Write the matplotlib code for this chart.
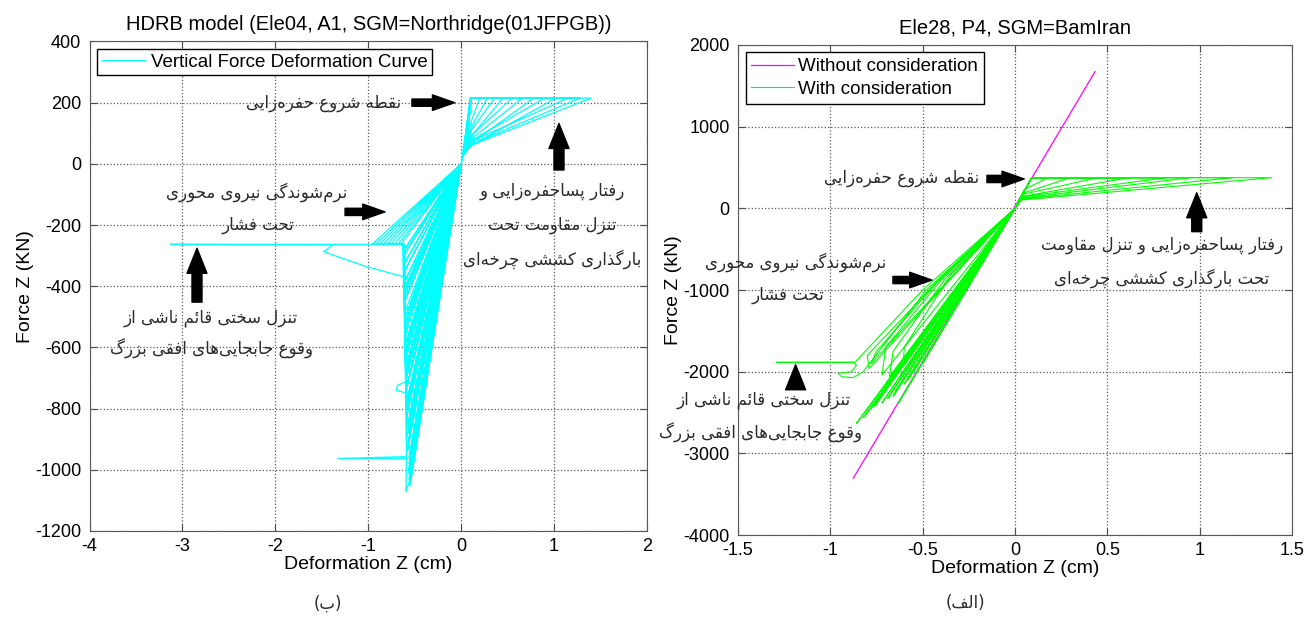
import matplotlib.pyplot as plt

plt.rcParams['font.family'] = ['Liberation Sans', 'DejaVu Sans']
plt.rcParams['axes.unicode_minus'] = False

# ---------------- data ----------------
# left plot: HDRB model, tension fan (path through the hysteresis loops)
left_ten_x = [0, 0.10, 1.40, 0.10, 0.03, 0.10, 1.28, 0.12, 0.04, 0.11, 1.15, 0.10, 0.02,
              0.10, 1.02, 0.13, 0.05, 0.11, 0.90, 0.12, 0.03, 0.10, 0.78, 0.14, 0.04,
              0.11, 0.66, 0.12, 0.03, 0.10, 0.55, 0.10, 0.04, 0.11, 0.45, 0.13, 0.03,
              0.10, 0.36, 0.11, 0.04, 0.10, 0.28, 0.12, 0.02, 0.10, 0.20, 0.11, 0]
left_ten_y = [0, 215, 215, 60, 30, 215, 215, 66, 38, 215, 215, 72, 25,
              215, 215, 64, 40, 215, 215, 78, 30, 215, 215, 74, 35,
              215, 215, 84, 30, 215, 215, 90, 40, 215, 215, 98, 35,
              215, 215, 110, 45, 215, 215, 125, 30, 215, 215, 140, 0]

# left plot: compression fan
left_com_x = [0, -0.96, -0.62, -0.61, 0, -0.92, -0.62, -0.60, 0, -0.88, -0.63, -0.60, 0,
              -0.84, -0.62, -0.59, 0, -0.80, -0.62, -0.59, 0, -0.76, -0.61, -0.60, 0,
              -0.72, -0.62, -0.60, 0, -0.68, -0.61, -0.59, 0, -0.65, -0.62, -0.58, 0,
              -0.62, 0, -0.61, 0, -0.60, 0, -0.61, 0, -0.60, 0, -0.59, 0, -0.60, 0,
              -0.59, 0, -0.58, 0, -0.59, 0, -0.57, 0, -0.58, 0, -0.56, 0, -0.57, 0,
              -0.61, 0, -0.60, 0, -0.60, 0, -0.59, 0, -0.59, 0, -0.58, 0, -0.58, 0,
              -0.57, 0, -0.57, 0, -0.56, 0, -0.55, 0, -0.56, 0, -0.55, 0,
              -0.62, 0, -0.61, 0, -0.60, 0, -0.60, 0, -0.59, 0, -0.58, 0]
left_com_y = [0, -263, -263, -420, 0, -263, -263, -560, 0, -263, -263, -680, 0,
              -263, -263, -800, 0, -263, -263, -900, 0, -263, -263, -480, 0,
              -263, -263, -620, 0, -263, -263, -740, 0, -263, -263, -860, 0,
              -300, 0, -350, 0, -400, 0, -450, 0, -520, 0, -580, 0, -640, 0,
              -700, 0, -770, 0, -830, 0, -880, 0, -930, 0, -980, 0, -1010, 0,
              -280, 0, -380, 0, -500, 0, -600, 0, -660, 0, -720, 0, -790, 0,
              -850, 0, -910, 0, -960, 0, -1000, 0, -1030, 0, -1050, 0,
              -330, 0, -430, 0, -540, 0, -690, 0, -815, 0, -940, 0]

# left plot: large-deformation branches
left_tail_x = [-0.64, -3.13, -1.38, -1.48, -1.38, -1.02, -0.62, -0.59, -0.68, -0.70,
               -0.59, -0.59, -1.33, -0.59, -0.594, -0.55, 0]
left_tail_y = [-263, -263, -265, -287, -298, -336, -369, -712, -723, -739,
               -750, -957, -963, -963, -1072, -1030, 0]

# right plot: without consideration (linear)
right_lin_x = [-0.876, 0.433]
right_lin_y = [-3305, 1672]

# right plot: with consideration, tension fan
right_ten_x = [0, 0.09, 1.39, 0.03, 0, 0.09, 1.18, 0.03, 0, 0.09, 0.95, 0.04, 0,
               0.09, 0.82, 0.04, 0, 0.09, 0.62, 0.05, 0, 0.09, 0.45, 0.04, 0,
               0.09, 0.30, 0.05, 0, 0.09, 0.18, 0.05, 0]
right_ten_y = [0, 375, 375, 100, 0, 375, 375, 112, 0, 375, 375, 125, 0,
               375, 375, 140, 0, 375, 375, 150, 0, 375, 375, 170, 0,
               375, 375, 190, 0, 375, 375, 230, 0]

# right plot: with consideration, compression fan
right_com_x = [0, -0.50, -0.867, -1.29, -0.876, -0.858, -0.885, -0.957, -0.939, -0.876,
               -0.822, -0.48, 0, -0.42, -0.75, -0.78, 0, -0.40, -0.70, -0.72, 0,
               -0.38, -0.66, -0.68, 0, -0.35, -0.60, -0.605, 0, -0.55, 0,
               -0.858, 0, -0.713, 0, -0.78, 0, -0.632, 0, -0.66, 0, -0.70, 0,
               -0.74, 0, -0.62, 0, -0.58, 0, -0.55, 0, -0.52, 0, -0.50, 0,
               -0.82, 0, -0.80, 0, -0.76, 0, -0.72, 0, -0.69, 0, -0.65, 0,
               -0.60, 0, -0.57, 0, -0.54, 0, -0.44, -0.80, -0.79, 0]
right_com_y = [0, -1000, -1885, -1885, -1885, -1918, -2000, -2020, -2061, -2073,
               -2000, -1000, 0, -900, -1750, -1900, 0, -880, -1700, -2040, 0,
               -870, -1750, -2060, 0, -820, -1700, -1940, 0, -1750, 0,
               -2632, 0, -2245, 0, -2450, 0, -2387, 0, -2300, 0, -2150, 0,
               -2350, 0, -2050, 0, -2100, 0, -2000, 0, -1800, 0, -1900, 0,
               -2560, 0, -2500, 0, -2420, 0, -2380, 0, -2330, 0, -2250, 0,
               -2150, 0, -2050, 0, -1950, 0, -940, -1800, -1960, 0]

left_title = 'HDRB model (Ele04, A1, SGM=Northridge(01JFPGB))'
right_title = 'Ele28, P4, SGM=BamIran'

# ---------------- persian shaping (no bidi support in matplotlib) ----------------
FORMS = {
    'ا': ('\uFE8D', '\uFE8E'), 'د': ('\uFEA9', '\uFEAA'), 'ذ': ('\uFEAB', '\uFEAC'),
    'ر': ('\uFEAD', '\uFEAE'), 'ز': ('\uFEAF', '\uFEB0'), 'و': ('\uFEED', '\uFEEE'),
    'ب': ('\uFE8F', '\uFE90', '\uFE91', '\uFE92'), 'پ': ('\uFB56', '\uFB57', '\uFB58', '\uFB59'),
    'ت': ('\uFE95', '\uFE96', '\uFE97', '\uFE98'), 'ج': ('\uFE9D', '\uFE9E', '\uFE9F', '\uFEA0'),
    'چ': ('\uFB7A', '\uFB7B', '\uFB7C', '\uFB7D'), 'ح': ('\uFEA1', '\uFEA2', '\uFEA3', '\uFEA4'),
    'خ': ('\uFEA5', '\uFEA6', '\uFEA7', '\uFEA8'), 'س': ('\uFEB1', '\uFEB2', '\uFEB3', '\uFEB4'),
    'ش': ('\uFEB5', '\uFEB6', '\uFEB7', '\uFEB8'), 'ط': ('\uFEC1', '\uFEC2', '\uFEC3', '\uFEC4'),
    'ع': ('\uFEC9', '\uFECA', '\uFECB', '\uFECC'), 'ف': ('\uFED1', '\uFED2', '\uFED3', '\uFED4'),
    'ق': ('\uFED5', '\uFED6', '\uFED7', '\uFED8'), 'ک': ('\uFB8E', '\uFB8F', '\uFB90', '\uFB91'),
    'گ': ('\uFB92', '\uFB93', '\uFB94', '\uFB95'), 'ل': ('\uFEDD', '\uFEDE', '\uFEDF', '\uFEE0'),
    'م': ('\uFEE1', '\uFEE2', '\uFEE3', '\uFEE4'), 'ن': ('\uFEE5', '\uFEE6', '\uFEE7', '\uFEE8'),
    'ه': ('\uFEE9', '\uFEEA', '\uFEEB', '\uFEEC'), 'ی': ('\uFBFC', '\uFBFD', '\uFBFE', '\uFBFF'),
    'ئ': ('\uFE89', '\uFE8A', '\uFE8B', '\uFE8C'),
}


def fa(text):
    out = []
    for i, ch in enumerate(text):
        if ch not in FORMS:
            if ch != '\u200c':
                out.append(ch)
            continue
        f = FORMS[ch]
        prev = text[i - 1] if i > 0 else ''
        nxt = text[i + 1] if i + 1 < len(text) else ''
        jp = prev in FORMS and len(FORMS[prev]) == 4
        jn = len(f) == 4 and nxt in FORMS
        if jp and jn:
            out.append(f[3])
        elif jp:
            out.append(f[1])
        elif jn:
            out.append(f[2])
        else:
            out.append(f[0])
    return ''.join(reversed(out)).translate(str.maketrans('()', ')('))


FA = ['DejaVu Sans']
TXT = '#2a2a2a'


def note(ax, x, y, s):
    ax.text(x, y, fa(s), family=FA, fontsize=12, color=TXT, ha='center', va='center')


def style(ax):
    ax.grid(True, linestyle=':', color='0.35', linewidth=0.9)
    ax.tick_params(direction='in', top=True, right=True, labelsize=13, length=5, color='0.3')
    ax.tick_params(axis='y', pad=6)
    ax.tick_params(axis='x', pad=5)
    for s in ax.spines.values():
        s.set_color('0.35')


def arrow(ax, tail, head, big=False):
    if big:
        st = 'simple,head_length=0.9,head_width=0.72,tail_width=0.36'
    else:
        st = 'simple,head_length=0.8,head_width=0.56,tail_width=0.26'
    ax.annotate('', xy=head, xytext=tail,
                arrowprops=dict(arrowstyle=st, fc='black', ec='black', mutation_scale=20,
                                shrinkA=0, shrinkB=0))


fig = plt.figure(figsize=(13.12, 6.19), dpi=100)

# ---------------- left plot ----------------
ax1 = fig.add_axes([0.0683, 0.1422, 0.4248, 0.7908])
ax1.plot(left_ten_x, left_ten_y, color='cyan', lw=0.9, label='Vertical Force Deformation Curve')
ax1.plot(left_com_x, left_com_y, color='cyan', lw=0.9)
ax1.plot(left_tail_x, left_tail_y, color='cyan', lw=0.9)
ax1.set_xlim(-4, 2)
ax1.set_ylim(-1200, 400)
ax1.set_xticks(range(-4, 3))
ax1.set_yticks(range(-1200, 401, 200))
style(ax1)
ax1.set_xlabel('Deformation Z (cm)', fontsize=14, labelpad=1)
ax1.set_ylabel('Force Z (KN)', fontsize=14, labelpad=1)
ax1.set_title(left_title, fontsize=14.5, pad=8)
ax1.legend(loc='upper left', fontsize=13.5, fancybox=False, edgecolor='black', framealpha=1,
           handlelength=2.3, borderaxespad=0.4, borderpad=0.25, handletextpad=0.3)

note(ax1, -1.477, 200, 'نقطه شروع حفره‌زایی')
arrow(ax1, (-0.53, 200), (-0.07, 200))
note(ax1, 0.98, -89, 'رفتار پساحفره‌زایی و')
note(ax1, 0.98, -200, 'تنزل مقاومت تحت')
note(ax1, 0.98, -311, 'بارگذاری کششی چرخه‌ای')
arrow(ax1, (1.053, -20), (1.053, 132), big=True)
note(ax1, -2.20, -92, 'نرم‌شوندگی نیروی محوری')
note(ax1, -2.19, -200, 'تحت فشار')
arrow(ax1, (-1.25, -157), (-0.82, -157))
arrow(ax1, (-2.844, -452), (-2.844, -276), big=True)
note(ax1, -2.70, -504, 'تنزل سختی قائم ناشی از')
note(ax1, -2.69, -605, 'وقوع جابجایی‌های افقی بزرگ')

# ---------------- right plot ----------------
ax2 = fig.add_axes([0.5625, 0.1355, 0.4223, 0.792])
ax2.plot(right_lin_x, right_lin_y, color='magenta', lw=0.9, label='Without consideration')
ax2.plot(right_ten_x, right_ten_y, color='lime', lw=0.8, label='With consideration')
ax2.plot(right_com_x, right_com_y, color='lime', lw=0.8)
ax2.set_xlim(-1.5, 1.5)
ax2.set_ylim(-4000, 2000)
ax2.set_xticks([-1.5, -1, -0.5, 0, 0.5, 1, 1.5])
ax2.set_xticklabels(['-1.5', '-1', '-0.5', '0', '0.5', '1', '1.5'])
ax2.set_yticks(range(-4000, 2001, 1000))
style(ax2)
ax2.set_xlabel('Deformation Z (cm)', fontsize=14, labelpad=1)
ax2.set_ylabel('Force Z (kN)', fontsize=14, labelpad=1)
ax2.set_title(right_title, fontsize=14.5, pad=8)
ax2.legend(loc='upper left', fontsize=13.5, fancybox=False, edgecolor='black', framealpha=1,
           handlelength=2.3, borderaxespad=0.4, borderpad=0.3, labelspacing=0.3,
           handletextpad=0.2)

note(ax2, -0.612, 371, 'نقطه شروع حفره‌زایی')
arrow(ax2, (-0.152, 359), (0.05, 359))
arrow(ax2, (0.984, -286), (0.984, 190), big=True)
note(ax2, 0.796, -449, 'رفتار پساحفره‌زایی و تنزل مقاومت')
note(ax2, 0.796, -853, 'تحت بارگذاری کششی چرخه‌ای')
note(ax2, -1.186, -657, 'نرم‌شوندگی نیروی محوری')
note(ax2, -1.23, -1061, 'تحت فشار')
arrow(ax2, (-0.661, -878), (-0.45, -878))
arrow(ax2, (-1.188, -2163), (-1.188, -1915), big=True)
note(ax2, -1.36, -2346, 'تنزل سختی قائم ناشی از')
note(ax2, -1.38, -2754, 'وقوع جابجایی‌های افقی بزرگ')

fig.text(0.250, 0.024, fa('(ب)'), family=FA, fontsize=12, color=TXT, ha='center', va='center')
fig.text(0.736, 0.026, fa('(الف)'), family=FA, fontsize=12, color=TXT, ha='center', va='center')

fig.savefig('out.png', dpi=100)
